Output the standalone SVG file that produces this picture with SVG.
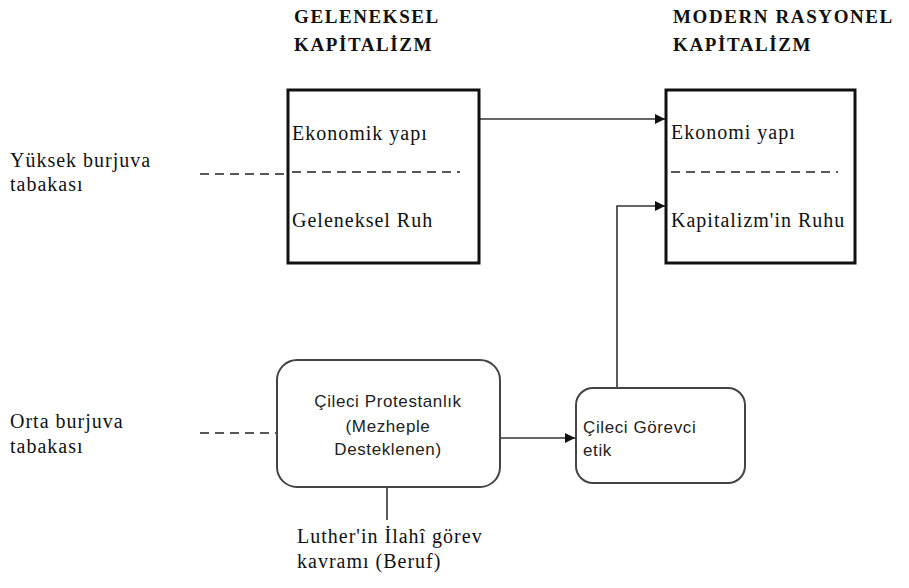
<svg xmlns="http://www.w3.org/2000/svg" width="909" height="588" viewBox="0 0 909 588">
<style>
.hd{font-family:"Liberation Serif",serif;font-weight:bold;font-size:19px;letter-spacing:1.6px;fill:#111}
.sf{font-family:"Liberation Serif",serif;font-size:20px;letter-spacing:1px;fill:#111}
.ss{font-family:"Liberation Sans",Arial,sans-serif;font-size:17px;letter-spacing:0.6px;fill:#222}
.box{fill:#fff;stroke:#111;stroke-width:3}
.rbox{fill:#fff;stroke:#444;stroke-width:2}
.dash{stroke:#222;stroke-width:1.5;stroke-dasharray:9,6;fill:none}
.ln{stroke:#333;stroke-width:1.6;fill:none}
</style>
<defs>
<marker id="ah" viewBox="0 0 10 10" refX="10" refY="5" markerWidth="10" markerHeight="10" markerUnits="userSpaceOnUse" orient="auto">
<path d="M0,0 L10,5 L0,10 z" fill="#111"/>
</marker>
</defs>
<g id="headers">
<text class="hd" x="294" y="23">GELENEKSEL</text>
<text class="hd" x="294" y="51">KAPİTALİZM</text>
<text class="hd" x="673" y="23">MODERN RASYONEL</text>
<text class="hd" x="673" y="51">KAPİTALİZM</text>
</g>
<g id="labels">
<text class="sf" x="10" y="167">Yüksek burjuva</text>
<text class="sf" x="10" y="191">tabakası</text>
<text class="sf" x="10" y="428">Orta burjuva</text>
<text class="sf" x="10" y="453">tabakası</text>
</g>
<g id="connectors">
<line class="dash" x1="200" y1="174" x2="286" y2="174"/>
<line class="dash" x1="200" y1="433" x2="277" y2="433"/>
<line class="ln" x1="480" y1="119" x2="665" y2="119" marker-end="url(#ah)"/>
<polyline class="ln" points="617,388 617,206 665,206" marker-end="url(#ah)"/>
<line class="ln" x1="500" y1="438" x2="575" y2="438" marker-end="url(#ah)"/>
<line class="ln" x1="387" y1="487" x2="387" y2="520"/>
</g>
<g id="geleneksel">
<rect class="box" x="288" y="90" width="191" height="173"/>
<text class="sf" x="292" y="140">Ekonomik yapı</text>
<line class="dash" x1="292" y1="172" x2="460" y2="172"/>
<text class="sf" x="292" y="227">Geleneksel Ruh</text>
</g>
<g id="modern">
<rect class="box" x="666" y="90" width="189" height="173"/>
<text class="sf" x="671" y="139">Ekonomi yapı</text>
<line class="dash" x1="671" y1="172" x2="838" y2="172"/>
<text class="sf" x="671" y="227">Kapitalizm'in Ruhu</text>
</g>
<g id="protestanlik">
<rect class="rbox" x="277" y="360" width="223" height="127" rx="20" ry="20"/>
<text class="ss" x="388" y="407" text-anchor="middle">Çileci Protestanlık</text>
<text class="ss" x="388" y="432" text-anchor="middle">(Mezheple</text>
<text class="ss" x="388" y="455" text-anchor="middle">Desteklenen)</text>
</g>
<g id="gorevci">
<rect class="rbox" x="576" y="388" width="169" height="95" rx="17" ry="17"/>
<text class="ss" x="583" y="433">Çileci Görevci</text>
<text class="ss" x="583" y="456">etik</text>
</g>
<g id="luther">
<text class="sf" x="297" y="543">Luther'in İlahî görev</text>
<text class="sf" x="297" y="568">kavramı (Beruf)</text>
</g>
</svg>
